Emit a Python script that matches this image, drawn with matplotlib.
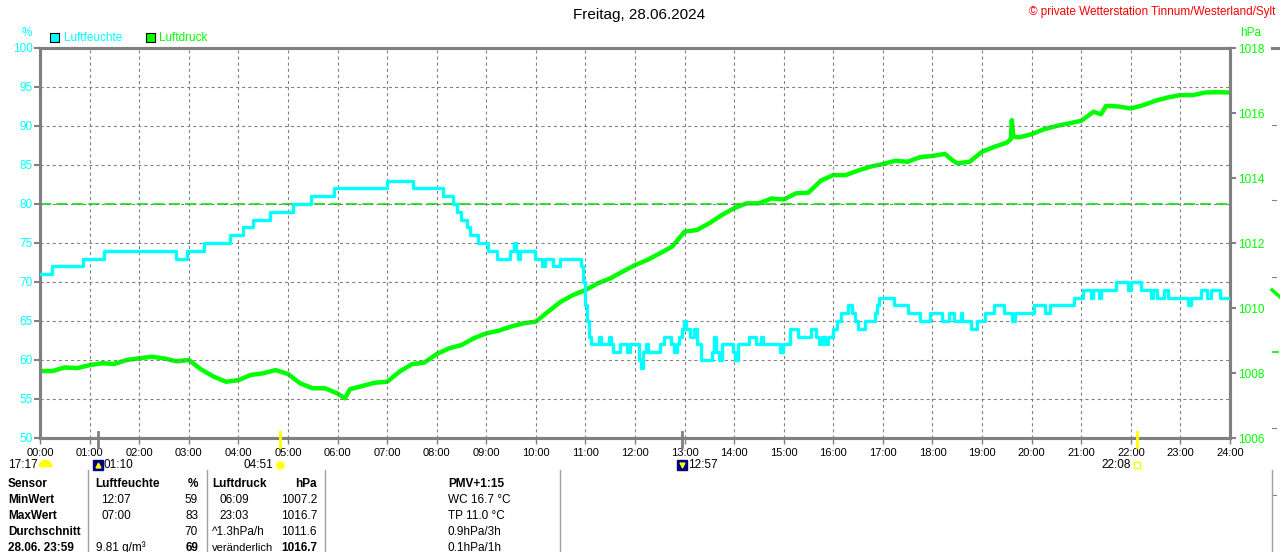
import matplotlib
matplotlib.use("Agg")
import matplotlib.pyplot as plt
from matplotlib.patches import Rectangle
from matplotlib.lines import Line2D

# ---------------- data ----------------
hours = list(range(25))
hour_labels = [f"{h:02d}:00" for h in hours]
humidity_ticks = [50, 55, 60, 65, 70, 75, 80, 85, 90, 95, 100]
pressure_ticks = [1006, 1008, 1010, 1012, 1014, 1016, 1018]

# (hour, relative humidity %) - value holds until next entry
humidity_steps = [
    (0.00, 71), (0.24, 72), (0.87, 73), (1.29, 74), (2.74, 73), (2.96, 74), (3.31, 75),
    (3.83, 76), (4.10, 77), (4.30, 78), (4.63, 79), (5.11, 80), (5.47, 81), (5.93, 82),
    (6.99, 83), (7.52, 82), (8.13, 81), (8.32, 80), (8.40, 79), (8.50, 78), (8.61, 77),
    (8.67, 76), (8.84, 75), (9.04, 74), (9.21, 73), (9.47, 74), (9.56, 75), (9.60, 74),
    (9.64, 73), (9.69, 74), (9.98, 73), (10.13, 72), (10.18, 73), (10.35, 72), (10.49, 73),
    (10.92, 72), (10.96, 70), (11.00, 67), (11.04, 65), (11.08, 63), (11.12, 62), (11.27, 63),
    (11.31, 62), (11.48, 63), (11.52, 62), (11.56, 61), (11.70, 62), (11.84, 61), (11.90, 62),
    (12.08, 60), (12.12, 59), (12.16, 61), (12.22, 62), (12.27, 61), (12.50, 62), (12.58, 63),
    (12.72, 62), (12.79, 61), (12.85, 62), (12.89, 63), (12.95, 64), (12.98, 65), (13.02, 64),
    (13.11, 63), (13.18, 64), (13.26, 62), (13.33, 60), (13.56, 61), (13.59, 63), (13.64, 61),
    (13.70, 60), (13.75, 62), (13.98, 61), (14.02, 60), (14.07, 62), (14.30, 63), (14.45, 62),
    (14.55, 63), (14.58, 62), (14.93, 61), (14.98, 62), (15.13, 64), (15.28, 63), (15.55, 64),
    (15.65, 63), (15.72, 62), (15.78, 63), (15.84, 62), (15.90, 63), (16.00, 64), (16.08, 65),
    (16.16, 66), (16.30, 67), (16.37, 66), (16.43, 65), (16.49, 64), (16.64, 65), (16.85, 66),
    (16.89, 67), (16.93, 68), (17.22, 67), (17.50, 66), (17.75, 65), (17.95, 66), (18.20, 65),
    (18.33, 66), (18.43, 65), (18.57, 66), (18.60, 65), (18.77, 64), (18.90, 65), (19.06, 66),
    (19.25, 67), (19.44, 66), (19.60, 65), (19.66, 66), (20.05, 67), (20.26, 66), (20.37, 67),
    (20.85, 68), (21.04, 69), (21.19, 68), (21.23, 69), (21.36, 68), (21.40, 69), (21.71, 70),
    (21.95, 69), (22.00, 70), (22.20, 69), (22.41, 68), (22.45, 69), (22.52, 68), (22.66, 69),
    (22.74, 68), (23.15, 67), (23.21, 68), (23.41, 69), (23.54, 68), (23.61, 69), (23.80, 68),
    (24.00, 68),
]

pressure_time = [
    0.00, 0.25, 0.50, 0.75, 1.00, 1.25, 1.50, 1.75, 2.00, 2.25, 2.50, 2.75, 3.00, 3.25,
    3.50, 3.75, 4.00, 4.25, 4.50, 4.75, 5.00, 5.25, 5.50, 5.75, 6.00, 6.15, 6.25, 6.50,
    6.75, 7.00, 7.25, 7.50, 7.75, 8.00, 8.25, 8.50, 8.75, 9.00, 9.25, 9.50, 9.75, 10.00,
    10.25, 10.50, 10.75, 11.00, 11.25, 11.50, 11.75, 12.00, 12.25, 12.50, 12.75, 13.00,
    13.25, 13.50, 13.75, 14.00, 14.25, 14.50, 14.75, 15.00, 15.25, 15.50, 15.75, 16.00,
    16.25, 16.50, 16.75, 17.00, 17.25, 17.50, 17.75, 18.00, 18.25, 18.40, 18.50, 18.75,
    19.00, 19.25, 19.50, 19.58, 19.60, 19.63, 19.75, 20.00, 20.25, 20.50, 20.75, 21.00,
    21.25, 21.40, 21.50, 21.75, 22.00, 22.25, 22.50, 22.75, 23.00, 23.25, 23.50, 23.75,
    24.00,
]
pressure_hpa = [
    1008.06, 1008.06, 1008.17, 1008.15, 1008.24, 1008.30, 1008.28, 1008.40, 1008.45, 1008.50,
    1008.45, 1008.36, 1008.40, 1008.11, 1007.89, 1007.73, 1007.78, 1007.94, 1007.99, 1008.09,
    1007.97, 1007.68, 1007.53, 1007.53, 1007.37, 1007.22, 1007.50, 1007.60, 1007.70, 1007.73,
    1008.04, 1008.27, 1008.32, 1008.58, 1008.76, 1008.86, 1009.07, 1009.22, 1009.30, 1009.43,
    1009.53, 1009.58, 1009.89, 1010.19, 1010.40, 1010.55, 1010.76, 1010.91, 1011.12, 1011.32,
    1011.48, 1011.68, 1011.89, 1012.35, 1012.40, 1012.61, 1012.86, 1013.07, 1013.22, 1013.22,
    1013.37, 1013.34, 1013.53, 1013.55, 1013.92, 1014.09, 1014.09, 1014.23, 1014.35, 1014.43,
    1014.53, 1014.50, 1014.64, 1014.68, 1014.74, 1014.55, 1014.45, 1014.50, 1014.81, 1014.96,
    1015.09, 1015.20, 1015.78, 1015.27, 1015.25, 1015.35, 1015.50, 1015.60, 1015.68, 1015.76,
    1016.04, 1015.96, 1016.22, 1016.20, 1016.14, 1016.24, 1016.38, 1016.48, 1016.55, 1016.55,
    1016.63, 1016.64, 1016.63,
]
normal_pressure = 1013.2

# sun / moon events on the time axis (hour, label, kind)
events = [(1 + 10 / 60, "01:10", "moonrise"), (4 + 51 / 60, "04:51", "sunrise"),
          (12 + 57 / 60, "12:57", "moonset"), (22 + 8 / 60, "22:08", "sunset")]

table_header = ["Sensor", "Luftfeuchte", "%", "Luftdruck", "hPa", "PMV+1:15"]
row_names = ["MinWert", "MaxWert", "Durchschnitt", "28.06. 23:59"]
hum_info = ["12:07", "07:00", "", "9.81 g/m³"]
hum_vals = ["59", "83", "70", "69"]
pres_info = ["06:09", "23:03", "^1.3hPa/h", "veränderlich"]
pres_vals = ["1007.2", "1016.7", "1011.6", "1016.7"]
extra_info = ["WC 16.7 °C", "TP 11.0 °C", "0.9hPa/3h", "0.1hPa/1h"]

# ---------------- style ----------------
CYAN = "#00FFFF"
GREEN = "#00FF00"
GRAY = "#808080"
FONT = ["Liberation Sans", "DejaVu Sans"]
plt.rcParams["font.family"] = FONT
plt.rcParams["lines.scale_dashes"] = False

W, H = 1280, 552
fig = plt.figure(figsize=(W / 100, H / 100), dpi=100)
fig.patch.set_facecolor("white")


def fx(x):
    return x / W


def fy(y):
    return 1 - y / H


ax = fig.add_axes([fx(40), fy(438), (1230 - 40) / W, (438 - 48) / H])
ax2 = ax.twinx()

ax.set_xlim(0, 24)
ax.set_ylim(50, 100)
ax2.set_ylim(1006, 1018)

ax.set_xticks(hours)
ax.set_xticklabels(hour_labels)
ax.set_yticks(humidity_ticks)
ax2.set_yticks(pressure_ticks)

ax.grid(True, color=GRAY, linestyle=(0, (2.2, 2.2)), linewidth=0.8)

for a in (ax, ax2):
    for s in a.spines.values():
        s.set_color(GRAY)
        s.set_linewidth(2.2)

ax.tick_params(axis="x", colors=GRAY, labelcolor="black", length=4, width=1,
               labelsize=8, pad=3)
ax.tick_params(axis="y", colors=GRAY, labelcolor=CYAN, length=4.5, width=1.5,
               labelsize=8.5, pad=0.5)
ax2.tick_params(axis="y", colors=GRAY, labelcolor=GREEN, length=4.5, width=1.5,
                labelsize=8.5, pad=1)

ht = [p[0] for p in humidity_steps]
hv = [p[1] for p in humidity_steps]
ax2.axhline(normal_pressure, color=GREEN, linewidth=1.3, dashes=(8, 3.6), zorder=2)
ax2.plot(pressure_time, pressure_hpa, color=GREEN, linewidth=3.2, zorder=3)
ax.step(ht, hv, where="post", color=CYAN, linewidth=2.4, zorder=4)
ax.set_zorder(ax2.get_zorder() + 1)
ax.patch.set_visible(False)

# event marks on the time axis
xt = ax.get_xaxis_transform()
yrow = -0.068
for t, lab, kind in events:
    col = "#FFFF00" if "sun" in kind else GRAY
    ax.plot([t, t], [-0.023, 0.015], transform=xt, color=col, linewidth=2,
            clip_on=False, zorder=6)
    if kind == "moonrise" or kind == "moonset":
        ax.plot([t], [yrow], transform=xt, marker="s", markersize=7, color="#000080",
                clip_on=False, zorder=6)
        ax.plot([t], [yrow], transform=xt, marker="^" if kind == "moonrise" else "v",
                markersize=3.5, color="#FFFF00", clip_on=False, zorder=7)
        ax.annotate(lab, (t, yrow), xycoords=xt, xytext=(4, 0), textcoords="offset points",
                    ha="left", va="center", fontsize=8.5)
    elif kind == "sunrise":
        ax.plot([t], [yrow], transform=xt, marker="o", markersize=6, color="#FFFF00",
                markeredgecolor="#FFFF80", clip_on=False, zorder=6)
        ax.annotate(lab, (t, yrow), xycoords=xt, xytext=(-5, 0), textcoords="offset points",
                    ha="right", va="center", fontsize=8.5)
    else:
        ax.plot([t], [yrow], transform=xt, marker="s", markersize=4.5, markerfacecolor="none",
                markeredgecolor="#FFFF00", clip_on=False, zorder=6)
        ax.annotate(lab, (t, yrow), xycoords=xt, xytext=(-5, 0), textcoords="offset points",
                    ha="right", va="center", fontsize=8.5)

# previous sunset at the left edge
fig.text(fx(38), fy(464.5), "17:17", ha="right", va="center", fontsize=8.5)
half_disk = [(-1, 0), (-0.92, 0.38), (-0.7, 0.7), (-0.38, 0.92), (0, 1), (0.38, 0.92),
             (0.7, 0.7), (0.92, 0.38), (1, 0), (-1, 0)]
fig.add_artist(Line2D([fx(45)], [fy(466)], marker=half_disk, markersize=9,
                      color="#FFFF00", linestyle="none"))


def T(x, y, s, **kw):
    kw.setdefault("fontsize", 8.5)
    fig.text(fx(x), fy(y), s, va="center", **kw)


# titles and legend
T(639, 15, "Freitag, 28.06.2024", ha="center", fontsize=11)
T(1275, 12, "© private Wetterstation Tinnum/Westerland/Sylt", ha="right", color="red",
  fontsize=8.5)
T(27, 33, "%", ha="center", color=CYAN)
T(1240, 33, "hPa", ha="left", color=GREEN)
fig.add_artist(Rectangle((fx(50), fy(42)), 9 / W, 9 / H, facecolor=CYAN,
                         edgecolor="black", linewidth=0.8))
T(64, 38, "Luftfeuchte", ha="left", color=CYAN)
fig.add_artist(Rectangle((fx(146), fy(42)), 9 / W, 9 / H, facecolor=GREEN,
                         edgecolor="black", linewidth=0.8))
T(159, 38, "Luftdruck", ha="left", color=GREEN)

# table
for xline in (88, 207, 325, 560):
    fig.add_artist(Line2D([fx(xline), fx(xline)], [fy(470), fy(552)], color="#A0A0A0",
                          linewidth=1))
row_y = [500, 516, 532, 548]
T(8, 484, table_header[0], ha="left", weight="bold")
T(95, 484, table_header[1], ha="left", weight="bold")
T(198, 484, table_header[2], ha="right", weight="bold")
T(212, 484, table_header[3], ha="left", weight="bold")
T(317, 484, table_header[4], ha="right", weight="bold")
T(448, 484, table_header[5], ha="left", weight="bold")
for i, y in enumerate(row_y):
    last = i == len(row_y) - 1
    T(8, y, row_names[i], ha="left", weight="bold")
    T(96 if last else 101, y, hum_info[i], ha="left")
    T(198, y, hum_vals[i], ha="right", weight="bold" if last else "normal")
    T(212 if i >= 2 else 219, y, pres_info[i], ha="left", fontsize=8 if last else 8.5)
    T(317, y, pres_vals[i], ha="right", weight="bold" if last else "normal")
    T(448, y, extra_info[i], ha="left")

# fragment of the neighbouring panel at the right edge
fig.add_artist(Line2D([fx(1272), fx(1280)], [fy(48), fy(48)], color=GRAY, linewidth=2.2))
for yy in (125, 200, 277, 428, 495):
    fig.add_artist(Line2D([fx(1272), fx(1276)], [fy(yy), fy(yy)], color=GRAY, linewidth=0.8))
fig.add_artist(Line2D([fx(1272), fx(1280)], [fy(290), fy(297)], color=GREEN, linewidth=2.5))
fig.add_artist(Line2D([fx(1273), fx(1278)], [fy(352), fy(352)], color=GREEN, linewidth=1.3))
fig.add_artist(Line2D([fx(1272), fx(1272)], [fy(470), fy(552)], color="#A0A0A0", linewidth=1))

fig.savefig("out.png", dpi=100, facecolor="white")
